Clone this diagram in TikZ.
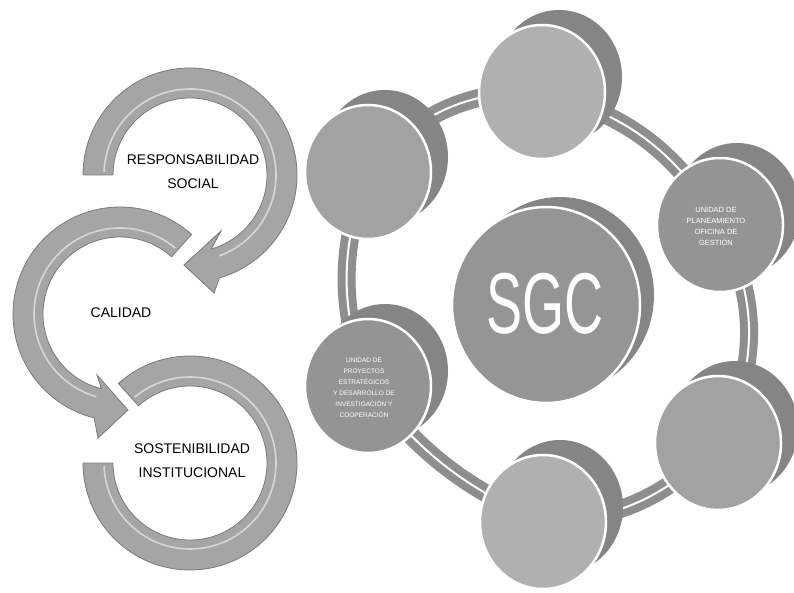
\documentclass[tikz,border=0pt]{standalone}
\usepackage{fontspec}
\usepackage{graphicx}
\setmainfont{Liberation Sans}
\usetikzlibrary{shapes.geometric}
\pgfdeclarelayer{bg}
\pgfsetlayers{bg,main}
\definecolor{arrowfill}{HTML}{A5A5A5}
\definecolor{arrowedge}{HTML}{7A7A7A}
\definecolor{facelight}{HTML}{B0B0B0}
\definecolor{facemid}{HTML}{A2A2A2}
\definecolor{facedark}{HTML}{949494}
\definecolor{backfill}{HTML}{858585}
\definecolor{sgcfill}{HTML}{959595}
\definecolor{bandfill}{HTML}{8E8E8E}
\begin{document}
\begin{tikzpicture}[x=1pt,y=1pt,
  ringarrow/.style={fill=arrowfill, draw=arrowedge, line width=0.8pt},
  shine/.style={draw=white, line width=1.6pt, opacity=0.55},
  lbl/.style={font=\fontsize{14}{24}\selectfont, align=center, text=black},
  face/.style={ellipse, inner sep=0pt, minimum width=126pt, minimum height=134pt, draw=white, line width=2.5pt, fill=facemid},
  back/.style={ellipse, inner sep=0pt, minimum width=126pt, minimum height=134pt, fill=backfill},
  band/.style={draw=bandfill, line width=8pt, double=white, double distance=2pt},
  small/.style={font=\fontsize{7.5}{11}\selectfont, text=white, align=center}
]
\useasboundingbox (0,0) rectangle (794,-593);

% ---------- left cycle of arrows ----------
\coordinate (A) at (190,-175);
\coordinate (B) at (120,-314);
\coordinate (C) at (190,-463);

\draw[ringarrow] ([shift={(180:107)}]A) arc[start angle=180,end angle=-74,radius=107]
  -- (214,-293) -- (184,-265) -- (221,-231)
  -- ([shift={(-74:77)}]A) arc[start angle=-74,end angle=180,radius=77] -- cycle;
\draw[shine] ([shift={(178:86)}]A) arc[start angle=178,end angle=-70,radius=86];

\draw[ringarrow] ([shift={(48:107)}]B) arc[start angle=48,end angle=256,radius=107]
  -- (98,-438) -- (128,-410) -- (97,-375)
  -- ([shift={(256:77)}]B) arc[start angle=256,end angle=48,radius=77] -- cycle;
\draw[shine] ([shift={(50:86)}]B) arc[start angle=50,end angle=254,radius=86];

\draw[ringarrow] ([shift={(132:107)}]C) arc[start angle=132,end angle=-180,radius=107]
  -- ([shift={(180:77)}]C) arc[start angle=-180,end angle=132,radius=77] -- cycle;
\draw[shine] ([shift={(130:86)}]C) arc[start angle=130,end angle=-178,radius=86];

\node[lbl] (rs) at (193,-172) {RESPONSABILIDAD\\SOCIAL};
\node[lbl] (cal) at (121,-313) {CALIDAD};
\node[lbl] (sos) at (192,-461) {SOSTENIBILIDAD\\INSTITUCIONAL};

% ---------- right: SGC and satellites ----------
\node[back] (ulb) at (385,-157) {};
\node[face] (ul) at (368,-172) {};
\node[back] (topb) at (559,-77) {};
\node[face, fill=facelight] (top) at (542,-92) {};
\node[back] (urb) at (737,-210) {};
\node[face, fill=facedark] (ur) at (720,-225) {};
\node[back] (lrb) at (735,-428) {};
\node[face] (lr) at (718,-443) {};
\node[back] (botb) at (560,-507) {};
\node[face, fill=facelight] (bot) at (543,-522) {};
\node[back] (llb) at (385,-371) {};
\node[face, fill=facedark] (ll) at (368,-386) {};

\node[ellipse, inner sep=0pt, minimum width=188pt, minimum height=196pt, fill=backfill] (sgcb) at (560,-295) {};
\node[ellipse, inner sep=0pt, minimum width=188pt, minimum height=196pt, fill=sgcfill, draw=white, line width=2.5pt] (sgc) at (546,-305) {};
\node[font=\fontsize{54}{54}\selectfont, text=white] (sgct) at (545,-304) {\scalebox{1}[1.6]{SGC}};

\node[small] (urt) at (716,-226) {UNIDAD DE\\PLANEAMIENTO\\OFICINA DE\\GESTIÓN};
\node[small, font=\fontsize{6.5}{11}\selectfont] (llt) at (364,-388) {UNIDAD DE\\PROYECTOS\\ESTRATÉGICOS\\Y DESARROLLO DE\\INVESTIGACIÓN Y\\COOPERACIÓN};

\begin{pgfonlayer}{bg}
\draw[band] (ul.center) to[bend left=26] (top.center);
\draw[band] (top.center) to[bend left=22] (ur.center);
\draw[band] (ur.center) to[bend left=28] (lr.center);
\draw[band] (lr.center) to[bend left=22] (bot.center);
\draw[band] (bot.center) to[bend left=14] (ll.center);
\draw[band] (ll.center) to[bend left=20] (ul.center);
\end{pgfonlayer}
\end{tikzpicture}
\end{document}
